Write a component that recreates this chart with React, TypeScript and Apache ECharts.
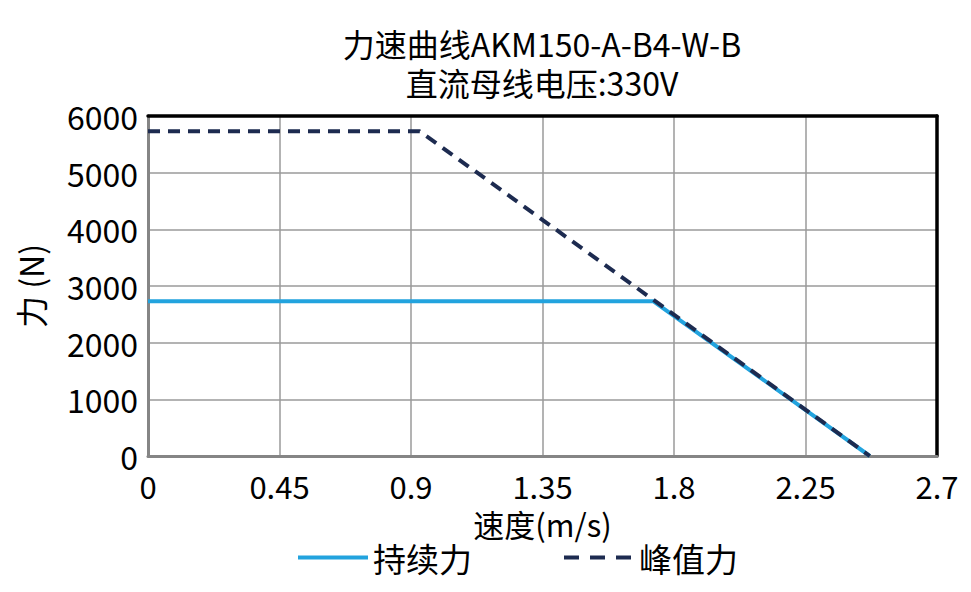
import React, { useEffect, useRef } from "react";
import * as echarts from "echarts";

const titleLines = ["力速曲线AKM150-A-B4-W-B", "直流母线电压:330V"];
const xName = "速度(m/s)";
const yName = "力 (N)";
const seriesNames = ["持续力", "峰值力"];
const continuousForce: [number, number][] = [
  [0, 2730],
  [1.73, 2730],
  [2.47, 0],
];
const peakForce: [number, number][] = [
  [0, 5730],
  [0.93, 5730],
  [2.47, 0],
];
const xMin = 0;
const xMax = 2.7;
const xStep = 0.45;
const yMin = 0;
const yMax = 6000;
const yStep = 1000;

const FONT = '"Noto Sans CJK SC", "Noto Sans", sans-serif';
const CONT_COLOR = "#22a3de";
const PEAK_COLOR = "#1d2b50";

export default function App() {
  const ref = useRef<HTMLDivElement>(null);
  useEffect(() => {
    document.body.style.margin = "0";
    const chart = echarts.init(ref.current!, undefined, { renderer: "svg" });
    const frameAxis = {
      show: true,
      axisLine: { show: true, onZero: false, lineStyle: { color: "#000", width: 3.5 } },
      axisTick: { show: false },
      axisLabel: { show: false },
      splitLine: { show: false },
    };
    const titleStyle = {
      fontFamily: FONT,
      fontSize: 32,
      fontWeight: "normal",
      color: "#000",
      lineHeight: 34,
    };
    chart.setOption({
      animation: false,
      textStyle: { fontFamily: FONT, color: "#000" },
      title: [
        { text: titleLines[0], left: 542, textAlign: "center", top: 26, padding: 0, textStyle: titleStyle },
        { text: titleLines[1], left: 542, textAlign: "center", top: 65, padding: 0, textStyle: titleStyle },
      ],
      legend: {
        left: 291,
        top: 536,
        itemWidth: 70,
        itemHeight: 14,
        itemGap: 90,
        itemStyle: { opacity: 0 },
        textStyle: { fontFamily: FONT, fontSize: 33, color: "#000" },
        data: [
          { name: seriesNames[0], lineStyle: { width: 4, color: CONT_COLOR } },
          { name: seriesNames[1], lineStyle: { width: 4, color: PEAK_COLOR, type: [15, 11] } },
        ],
      },
      grid: {
        left: 148,
        right: 34,
        top: 116,
        bottom: 136,
      },
      xAxis: [
        {
          type: "value",
          min: xMin,
          max: xMax,
          interval: xStep,
          name: xName,
          nameLocation: "middle",
          nameGap: 52,
          nameTextStyle: { fontFamily: FONT, fontSize: 31, color: "#000", lineHeight: 30 },
          axisLine: { show: true, onZero: false, lineStyle: { color: "#858585", width: 3 } },
          axisTick: { show: false },
          axisLabel: {
            fontFamily: FONT,
            fontSize: 31,
            lineHeight: 30,
            color: "#000",
            margin: 14,
            formatter: (v: number) => String(+v.toFixed(2)),
          },
          splitLine: { show: true, lineStyle: { color: "#9a9a9a", width: 1.5 } },
        },
        { type: "value", position: "top", min: xMin, max: xMax, interval: xStep, ...frameAxis },
      ],
      yAxis: [
        {
          type: "value",
          min: yMin,
          max: yMax,
          interval: yStep,
          name: yName,
          nameLocation: "middle",
          nameGap: 102,
          nameTextStyle: { fontFamily: FONT, fontSize: 32, color: "#000" },
          axisLine: { show: true, onZero: false, lineStyle: { color: "#858585", width: 3 } },
          axisTick: { show: false },
          axisLabel: {
            fontFamily: FONT,
            fontSize: 32,
            color: "#000",
            margin: 10,
            formatter: (v: number) => String(v),
          },
          splitLine: { show: true, lineStyle: { color: "#9a9a9a", width: 1.5 } },
        },
        { type: "value", position: "right", min: yMin, max: yMax, interval: yStep, ...frameAxis },
      ],
      series: [
        {
          name: seriesNames[0],
          type: "line",
          data: continuousForce,
          symbol: "none",
          lineStyle: { color: CONT_COLOR, width: 4 },
          itemStyle: { color: CONT_COLOR },
          z: 3,
        },
        {
          name: seriesNames[1],
          type: "line",
          data: peakForce,
          symbol: "none",
          lineStyle: { color: PEAK_COLOR, width: 4, type: [12, 8] },
          itemStyle: { color: PEAK_COLOR },
          z: 4,
        },
      ],
    });
    return () => chart.dispose();
  }, []);
  return <div ref={ref} style={{ width: 971, height: 592 }} />;
}
